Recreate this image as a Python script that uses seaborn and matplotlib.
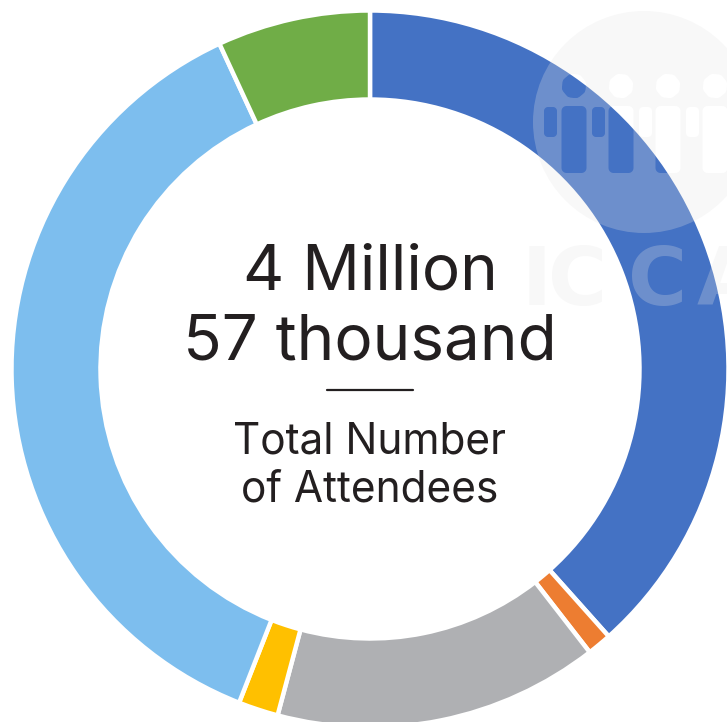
import numpy as np
import seaborn as sns
import matplotlib.pyplot as plt
from matplotlib.path import Path
from matplotlib.patches import PathPatch

# 도넛 차트 데이터 (그림에서 읽은 값, %)
shares = [38.4, 1.1, 14.65, 1.8, 37.15, 6.9]
colors = ['#4472C4', '#ED7D31', '#AFB0B3', '#FFC000', '#7DBEEE', '#70AD47']
center_lines = ['4 Million', '57 thousand']
caption_lines = ['Total Number', 'of Attendees']

sns.set_theme(style='white')
plt.rcParams['font.family'] = ['Inter', 'DejaVu Sans']

W, H = 727, 722
fig = plt.figure(figsize=(W / 100, H / 100), dpi=100)
ax = fig.add_axes([0, 0, 1, 1])


def py(y):
    # 픽셀 y(위에서부터)를 데이터 좌표로
    return H - y


# 도넛 그리기
ax.pie(shares, colors=colors, startangle=90, counterclock=False,
       center=(370, py(369)), radius=358.5, frame=True,
       wedgeprops={'width': 89, 'edgecolor': 'white', 'linewidth': 3.2})
ax.set_xlim(0, W)
ax.set_ylim(0, H)
ax.set_aspect('equal')
ax.axis('off')


def rounded_bar(x0, x1, y0, y1, r):
    # 구멍으로 쓸 둥근 사각형 (시계 방향)
    t = np.linspace(0, np.pi / 2, 8)
    pts = []
    for cx, cy, a in [(x0 + r, y0 + r, 1.5 * np.pi), (x0 + r, y1 - r, np.pi),
                      (x1 - r, y1 - r, np.pi / 2), (x1 - r, y0 + r, 0)]:
        ang = a - t
        pts.extend(zip(cx + r * np.cos(ang), cy + r * np.sin(ang)))
    pts.append(pts[0])
    return Path(pts, closed=True)


# 워터마크: 원 안에 사람 모양 구멍
wm_color = '#E4E4E4'
wm_alpha = 0.26
paths = [Path.circle((644, py(122)), 111)]
for cx in [574, 621, 668, 715]:
    head = Path.circle((cx, py(86)), 12)
    paths.append(Path(head.vertices[::-1], head.codes))
    paths.append(rounded_bar(cx - 12.5, cx + 12.5, py(173), py(106), 5))
    paths.append(rounded_bar(cx + 18, cx + 31, py(137), py(107), 4))
paths.append(rounded_bar(544, 557, py(137), py(107), 4))
ax.add_patch(PathPatch(Path.make_compound_path(*paths), facecolor=wm_color,
                       edgecolor='none', alpha=wm_alpha, zorder=5))

for letter, x in zip('ICCA', [522, 548, 628, 697]):
    ax.text(x, py(305), letter, color=wm_color, alpha=wm_alpha, fontsize=58,
            fontweight='bold', family='DejaVu Sans', ha='left', va='baseline',
            zorder=5)

# 가운데 글자
for line, y in zip(center_lines, [290, 360]):
    ax.text(370, py(y), line, color='#231F20', fontsize=46, ha='center',
            va='baseline', zorder=6)
ax.plot([327, 413], [py(390), py(390)], color='#231F20', lw=1.6, zorder=6)
for line, y in zip(caption_lines, [454, 501]):
    ax.text(370, py(y), line, color='#231F20', fontsize=30.5, fontweight='normal',
            ha='center', va='baseline', zorder=6)

plt.savefig('out.png', dpi=100)
